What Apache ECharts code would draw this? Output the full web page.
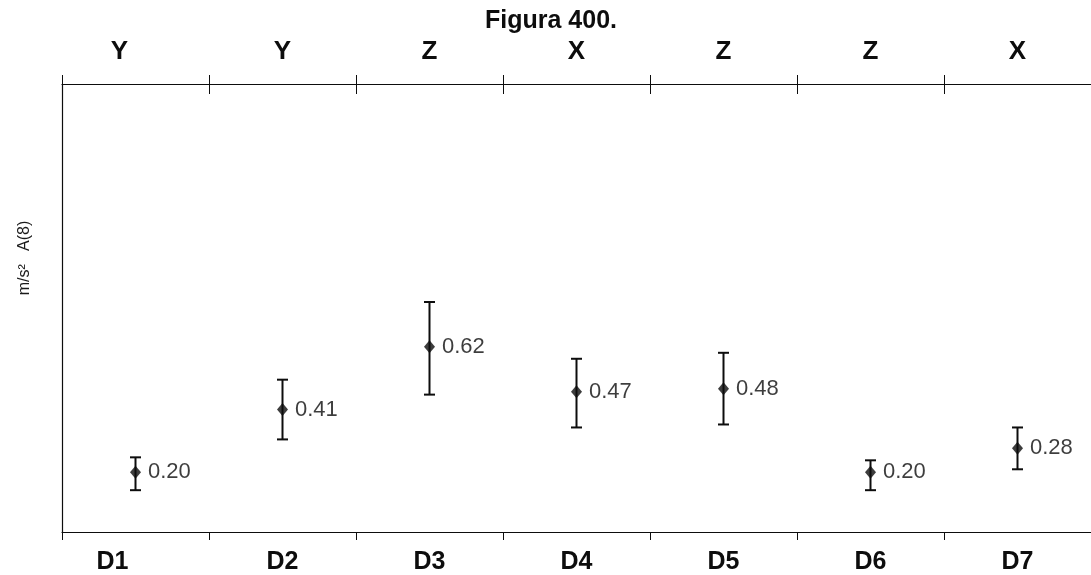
<!DOCTYPE html>
<html>
<head>
<meta charset="utf-8">
<script src="https://cdn.jsdelivr.net/npm/echarts@6/dist/echarts.min.js"></script>
<style>
html,body{margin:0;padding:0;background:#fff;}
#chart{width:1091px;height:575px;}
</style>
</head>
<body>
<div id="chart"></div>
<script>
// ---- data ----
var categories = ['D1', 'D2', 'D3', 'D4', 'D5', 'D6', 'D7'];
var axisNames = ['Y', 'Y', 'Z', 'X', 'Z', 'Z', 'X'];
var values = [0.20, 0.41, 0.62, 0.47, 0.48, 0.20, 0.28];
var errLow = [0.14, 0.31, 0.46, 0.35, 0.36, 0.14, 0.21];
var errHigh = [0.25, 0.51, 0.77, 0.58, 0.60, 0.24, 0.35];
var titleText = 'Figura 400.';
var yName = 'm/s\u00B2   A(8)';

var FONT = '"Liberation Sans", Arial, Helvetica, sans-serif';
var INK = '#0d0d0d';

var chart = echarts.init(document.getElementById('chart'), null, {renderer: 'canvas'});

var gridBox = {left: 62, top: 84, width: 1039, height: 448};

var errData = categories.map(function (c, i) { return [i, errLow[i], errHigh[i]]; });

function shiftedLabel(name, index) {
  return index === 0 ? '{first|' + name + '}' : name;
}

var option = {
  backgroundColor: '#fff',
  animation: false,
  graphic: [
    {
      type: 'text',
      left: 485, top: 9,
      style: {text: titleText, font: 'bold 25px ' + FONT, fill: INK}
    },
    {
      type: 'text',
      x: 25, y: 258,
      rotation: Math.PI / 2,
      style: {text: yName, font: '16px ' + FONT, fill: '#1a1a1a', align: 'center', verticalAlign: 'middle'}
    }
  ],
  grid: [
    {left: gridBox.left, top: gridBox.top, width: gridBox.width, height: gridBox.height},
    {left: gridBox.left, top: gridBox.top, width: gridBox.width, height: gridBox.height}
  ],
  xAxis: [
    {
      type: 'category', gridIndex: 0, position: 'bottom',
      data: categories, boundaryGap: true,
      axisLine: {show: true, onZero: false, lineStyle: {color: INK, width: 1.2}},
      axisTick: {show: true, length: 8, lineStyle: {color: INK, width: 1}},
      axisLabel: {
        interval: 0, margin: 18, color: INK, fontFamily: FONT, fontWeight: 'bold', fontSize: 25,
        formatter: shiftedLabel,
        rich: {first: {fontFamily: FONT, fontWeight: 'bold', fontSize: 25, color: INK, padding: [0, 46, 0, 0]}}
      },
      splitLine: {show: false}
    },
    {
      type: 'category', gridIndex: 1, position: 'top',
      data: axisNames, boundaryGap: true,
      axisLine: {show: true, onZero: false, lineStyle: {color: INK, width: 1.2}},
      axisTick: {show: true, length: 9, lineStyle: {color: INK, width: 1}},
      axisLabel: {
        interval: 0, margin: 19, color: INK, fontFamily: FONT, fontWeight: 'bold', fontSize: 26,
        formatter: shiftedLabel,
        rich: {first: {fontFamily: FONT, fontWeight: 'bold', fontSize: 26, color: INK, padding: [0, 32, 0, 0]}}
      },
      splitLine: {show: false}
    },
    {
      type: 'category', gridIndex: 0, position: 'top',
      data: axisNames, boundaryGap: true,
      axisLine: {show: false, onZero: false},
      axisTick: {show: true, inside: true, length: 10, lineStyle: {color: INK, width: 1}},
      axisLabel: {show: false},
      splitLine: {show: false}
    }
  ],
  yAxis: [
    {
      type: 'value', gridIndex: 0, min: 0, max: 1.5,
      axisLine: {show: true, onZero: false, lineStyle: {color: INK, width: 1.2}},
      axisTick: {show: false}, axisLabel: {show: false}, splitLine: {show: false}
    },
    {
      type: 'value', gridIndex: 1, min: 0, max: 1.5,
      axisLine: {show: false, onZero: false},
      axisTick: {show: false}, axisLabel: {show: false}, splitLine: {show: false}
    }
  ],
  series: [
    {
      type: 'custom',
      xAxisIndex: 0, yAxisIndex: 0,
      z: 2,
      data: errData,
      renderItem: function (params, api) {
        var x = api.value(0);
        var pLow = api.coord([x, api.value(1)]);
        var pHigh = api.coord([x, api.value(2)]);
        var hw = 5.5;
        var st = {stroke: INK, lineWidth: 2};
        return {
          type: 'group',
          children: [
            {type: 'line', shape: {x1: pLow[0], y1: pLow[1], x2: pHigh[0], y2: pHigh[1]}, style: st},
            {type: 'line', shape: {x1: pHigh[0] - hw, y1: pHigh[1], x2: pHigh[0] + hw, y2: pHigh[1]}, style: st},
            {type: 'line', shape: {x1: pLow[0] - hw, y1: pLow[1], x2: pLow[0] + hw, y2: pLow[1]}, style: st}
          ]
        };
      }
    },
    {
      type: 'scatter',
      xAxisIndex: 0, yAxisIndex: 0,
      z: 3,
      symbol: 'diamond',
      symbolSize: [11, 13],
      itemStyle: {color: INK},
      data: values,
      label: {
        show: true, position: 'right', distance: 7,
        fontFamily: FONT, fontSize: 22, color: INK,
        formatter: function (p) { return p.value.toFixed(2); }
      }
    }
  ]
};
chart.setOption(option);
</script>
</body>
</html>
